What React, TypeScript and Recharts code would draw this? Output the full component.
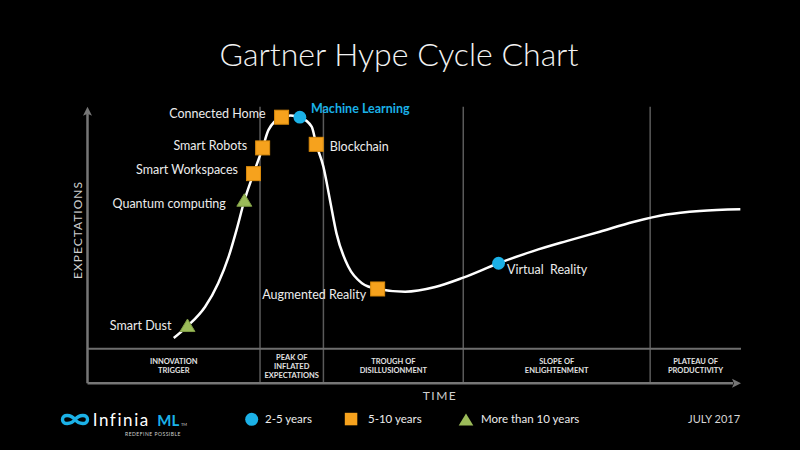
import React from 'react';
import { ComposedChart, Line, Scatter, XAxis, YAxis, ReferenceLine, ReferenceDot } from 'recharts';

// hype curve (x = time 0-100, y = expectations 0-100)
const CURVE_X = [13.2, 15.3, 18.0, 20.0, 21.6, 22.8, 24.0, 25.4, 26.8, 27.7, 29.7, 31.1, 32.5, 34.3, 35.0, 36.1, 37.1, 38.1, 39.9, 42.0, 44.4, 48.6, 53.2, 57.5, 62.9, 68.2, 73.3, 78.4, 83.5, 88.6, 93.7, 99.9];
const CURVE_Y = [16.4, 20.7, 27.7, 36.2, 45.8, 55.4, 66.0, 75.8, 85.1, 91.6, 96.2, 96.8, 96.2, 92.8, 86.4, 78.3, 66.3, 54.2, 42.2, 36.2, 34.1, 33.1, 34.8, 38.2, 43.4, 47.8, 51.4, 54.8, 58.3, 61.0, 62.3, 62.9];

const SHORT_TERM = [
  { name: 'Machine Learning', x: 32.5, y: 96.2 },
  { name: 'Virtual  Reality', x: 62.9, y: 43.4 },
];
const MID_TERM = [
  { name: 'Connected Home', x: 29.7, y: 96.2 },
  { name: 'Smart Robots', x: 26.8, y: 85.1 },
  { name: 'Smart Workspaces', x: 25.4, y: 75.8 },
  { name: 'Blockchain', x: 35.0, y: 86.4 },
  { name: 'Augmented Reality', x: 44.4, y: 34.1 },
];
const LONG_TERM = [
  { name: 'Quantum computing', x: 24.0, y: 66.0 },
  { name: 'Smart Dust', x: 15.3, y: 20.7 },
];

const PHASE_BOUNDS = [0, 26.4, 36.1, 57.5, 86.1, 100];
const PHASES = [
  ['INNOVATION', 'TRIGGER'],
  ['PEAK OF', 'INFLATED', 'EXPECTATIONS'],
  ['TROUGH OF', 'DISILLUSIONMENT'],
  ['SLOPE OF', 'ENLIGHTENMENT'],
  ['PLATEAU OF', 'PRODUCTIVITY'],
];
const BAND_TOP = 12.5;

const SERIES_NAMES = ['2-5 years', '5-10 years', 'More than 10 years'];

const BLUE = '#1bb1e7';
const ORANGE = '#f6a21d';
const GREEN = '#9bbb59';
const TEXT = '#ececec';
const FONT = 'Lato, "Open Sans", sans-serif';

// where each label sits relative to its marker
const LABEL_OFFSETS: Record<string, [number, number]> = {
  'Smart Dust': [-16, 0],
  'Quantum computing': [-18.5, 2.7],
  'Smart Workspaces': [-15.5, -3.7],
  'Smart Robots': [-15.5, -2.7],
  'Connected Home': [-16, -4],
  'Machine Learning': [11, -9],
  'Blockchain': [13.5, 2.7],
  'Augmented Reality': [-11.5, 5.3],
  'Virtual  Reality': [8.5, 6.7],
};

const curveData = CURVE_X.map((x, i) => ({ x, y: CURVE_Y[i] }));

const PointLabel = ({ cx, cy, name }: any) => {
  const [dx, dy] = LABEL_OFFSETS[name] || [10, 0];
  const ml = name === 'Machine Learning';
  return (
    <text
      x={cx + dx}
      y={cy + dy}
      dy="0.35em"
      textAnchor={dx < 0 ? 'end' : 'start'}
      fill={ml ? BLUE : TEXT}
      fontSize={12.5}
      fontWeight={ml ? 700 : 400}
      fontFamily={FONT}
      style={{ whiteSpace: 'pre' }}
    >
      {name}
    </text>
  );
};

const circleShape = (props: any) => (
  <g>
    <circle cx={props.cx} cy={props.cy} r={6.4} fill={BLUE} />
    <PointLabel cx={props.cx} cy={props.cy} name={props.payload.name} />
  </g>
);

const squareShape = (props: any) => (
  <g>
    <rect x={props.cx - 7} y={props.cy - 7} width={14} height={14} fill={ORANGE} stroke="#d98a0c" strokeWidth={1} />
    <PointLabel cx={props.cx} cy={props.cy} name={props.payload.name} />
  </g>
);

const triangleShape = (props: any) => {
  const { cx, cy } = props;
  return (
    <g>
      <polygon points={`${cx},${cy - 7} ${cx + 7.5},${cy + 5.5} ${cx - 7.5},${cy + 5.5}`} fill={GREEN} stroke="#7f9c45" strokeWidth={1} />
      <PointLabel cx={cx} cy={cy} name={props.payload.name} />
    </g>
  );
};

const arrowRight = ({ cx, cy }: any) => (
  <path d={`M${cx},${cy} L${cx - 9},${cy - 4.5} L${cx - 7},${cy} L${cx - 9},${cy + 4.5} Z`} fill="#767676" />
);
const arrowUp = ({ cx, cy }: any) => (
  <path d={`M${cx},${cy} L${cx - 4.5},${cy + 9} L${cx},${cy + 7} L${cx + 4.5},${cy + 9} Z`} fill="#767676" />
);

const phaseLabel = (lines: string[]) => ({ cx, cy }: any) => {
  const start = cy - ((lines.length - 1) * 9) / 2;
  return (
    <text textAnchor="middle" fill="#e2e2e2" fontSize={7.5} fontWeight={700} fontFamily={FONT}>
      {lines.map((l, i) => (
        <tspan key={l} x={cx} y={start + i * 9} dy="0.35em">{l}</tspan>
      ))}
    </text>
  );
};

export default function App() {
  return (
    <div style={{ position: 'fixed', left: 0, top: 0, width: 800, height: 450, background: '#000', overflow: 'hidden' }}>
      <ComposedChart width={800} height={450} data={curveData} margin={{ top: 106.7, right: 59, bottom: 66.7, left: 87.5 }}>
        <XAxis type="number" dataKey="x" domain={[0, 100]} hide />
        <YAxis type="number" domain={[0, 100]} hide />
        {PHASE_BOUNDS.slice(1, -1).map((b) => (
          <ReferenceLine key={b} x={b} stroke="#5a5a5a" strokeWidth={1.5} />
        ))}
        <ReferenceLine segment={[{ x: 0, y: BAND_TOP }, { x: 100, y: BAND_TOP }]} stroke="#6e6e6e" strokeWidth={2} />
        <ReferenceLine segment={[{ x: 0, y: 0 }, { x: 98.8, y: 0 }]} stroke="#767676" strokeWidth={2.5} />
        <ReferenceLine segment={[{ x: 0, y: 0 }, { x: 0, y: 97.5 }]} stroke="#767676" strokeWidth={2.5} />
        <ReferenceDot x={100} y={0} shape={arrowRight} />
        <ReferenceDot x={0} y={100} shape={arrowUp} />
        {PHASES.map((lines, i) => (
          <ReferenceDot
            key={lines[0]}
            x={(PHASE_BOUNDS[i] + PHASE_BOUNDS[i + 1]) / 2}
            y={BAND_TOP / 2}
            shape={phaseLabel(lines)}
          />
        ))}
        <Line dataKey="y" type="monotone" stroke="#ffffff" strokeWidth={2.5} dot={false} activeDot={false} isAnimationActive={false} />
        <Scatter name={SERIES_NAMES[2]} data={LONG_TERM} dataKey="y" shape={triangleShape} isAnimationActive={false} />
        <Scatter name={SERIES_NAMES[1]} data={MID_TERM} dataKey="y" shape={squareShape} isAnimationActive={false} />
        <Scatter name={SERIES_NAMES[0]} data={SHORT_TERM} dataKey="y" shape={circleShape} isAnimationActive={false} />
      </ComposedChart>

      <svg width={800} height={450} style={{ position: 'absolute', left: 0, top: 0, pointerEvents: 'none' }} fontFamily={FONT}>
        <text x={399} y={66} textAnchor="middle" fill="#f2f2f2" fontSize={32} fontWeight={300}>Gartner Hype Cycle Chart</text>
        <text x={0} y={0} transform="translate(77.5,230) rotate(-90)" textAnchor="middle" dy="0.35em" fill="#d0d0d0" fontSize={12} letterSpacing={1}>EXPECTATIONS</text>
        <text x={440} y={399.5} textAnchor="middle" fill="#d0d0d0" fontSize={12} letterSpacing={1.5}>TIME</text>

        {/* legend */}
        <circle cx={251.7} cy={419.3} r={6.5} fill={BLUE} />
        <text x={265} y={423.3} fill={TEXT} fontSize={11.5}>{SERIES_NAMES[0]}</text>
        <rect x={344.8} y={412.8} width={12.5} height={12.5} fill={ORANGE} />
        <text x={368} y={423.3} fill={TEXT} fontSize={11.5}>{SERIES_NAMES[1]}</text>
        <polygon points="466,413.5 473.3,425.5 458.7,425.5" fill={GREEN} />
        <text x={481} y={423.3} fill={TEXT} fontSize={11.5}>{SERIES_NAMES[2]}</text>

        <text x={688} y={423} fill="#d5d5d5" fontSize={11}>JULY 2017</text>

        {/* logo */}
        <path
          d="M75,419.5 C71,414.5 62.5,413.8 62.5,419.5 C62.5,425.2 71,424.5 75,419.5 C79,414.5 87.5,413.8 87.5,419.5 C87.5,425.2 79,424.5 75,419.5 Z"
          fill="none"
          stroke={BLUE}
          strokeWidth={3.4}
        />
        <text x={92.7} y={425.7} fill="#ffffff" fontSize={17} fontWeight={400} letterSpacing={1.6}>Infinia</text>
        <text x={157.3} y={425.7} fill={BLUE} fontSize={15} fontWeight={700}>ML</text>
        <text x={181} y={426} fill="#cccccc" fontSize={4}>TM</text>
        <text x={153} y={436} textAnchor="middle" fill="#cfcfcf" fontSize={5} letterSpacing={0.5}>REDEFINE POSSIBLE</text>
      </svg>
    </div>
  );
}
